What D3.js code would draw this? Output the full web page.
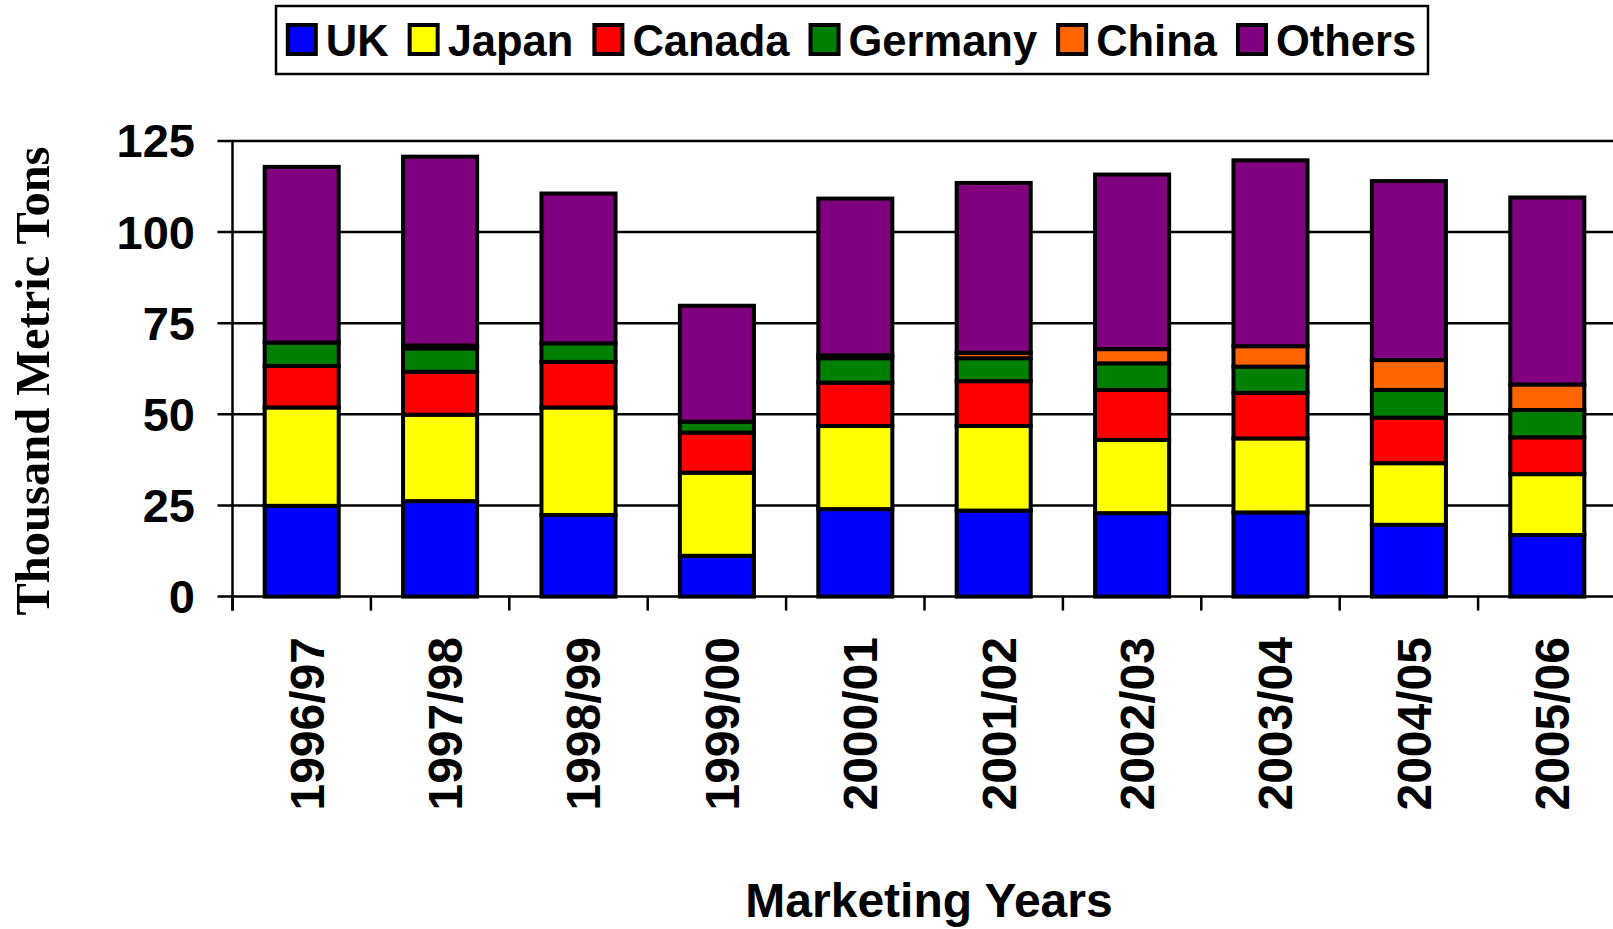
<!DOCTYPE html>
<meta charset="utf-8">
<script src="https://d3js.org/d3.v7.min.js"></script>
<style>
  body { margin: 0; background: #fff; }
  text { font-family: Arial, "Liberation Sans", sans-serif; font-weight: bold; fill: #000; }
</style>
<div id="my_dataviz"></div>
<script>
// data (thousand metric tons)
var years   = ["1996/97", "1997/98", "1998/99", "1999/00", "2000/01", "2001/02", "2002/03", "2003/04", "2004/05", "2005/06"];
var uk      = [24.9, 26.2, 22.4, 11.2, 24.0, 23.6, 22.9, 23.1, 19.7, 16.9];
var japan   = [27.0, 23.7, 29.5, 22.8, 22.8, 23.2, 20.1, 20.3, 16.9, 16.7];
var canada  = [11.4, 11.8, 12.5, 11.0, 11.9, 12.3, 13.7, 12.5, 12.5, 10.1];
var germany = [6.4, 6.4, 5.1, 3.0, 6.7, 6.3, 7.3, 7.2, 7.6, 7.5];
var china   = [0, 0.8, 0, 0, 0.8, 1.5, 3.9, 5.6, 8.2, 7.0];
var others  = [48.2, 51.8, 41.1, 31.8, 43.0, 46.6, 47.9, 51.0, 49.1, 51.3];
var yTicks  = [0, 25, 50, 75, 100, 125];

var keys   = ["UK", "Japan", "Canada", "Germany", "China", "Others"];
var colors = ["#0000FF", "#FFFF00", "#FF0000", "#008000", "#FF6600", "#800080"];

var data = years.map(function(y, i) {
  return {year: y, UK: uk[i], Japan: japan[i], Canada: canada[i],
          Germany: germany[i], China: china[i], Others: others[i]};
});

var W = 1613, H = 929;
var plotLeft = 232.5, plotTop = 141, plotBottom = 596.6;

var svg = d3.select("#my_dataviz")
  .append("svg")
    .attr("width", W)
    .attr("height", H);

var x = d3.scaleBand()
  .domain(years)
  .range([plotLeft, plotLeft + 1384])
  .paddingInner(0.465)
  .paddingOuter(0.2325);

var y = d3.scaleLinear()
  .domain([0, 125])
  .range([plotBottom, plotTop]);

var color = d3.scaleOrdinal().domain(keys).range(colors);

// gridlines
svg.append("g")
  .selectAll("line")
  .data(yTicks)
  .enter().append("line")
    .attr("x1", plotLeft - 15)
    .attr("x2", W)
    .attr("y1", function(d) { return y(d); })
    .attr("y2", function(d) { return y(d); })
    .attr("stroke", "#000")
    .attr("stroke-width", 2.5);

// y tick labels
svg.append("g")
  .selectAll("text")
  .data(yTicks)
  .enter().append("text")
    .attr("x", 195)
    .attr("y", function(d) { return y(d); })
    .attr("dy", "0.35em")
    .attr("text-anchor", "end")
    .style("font-size", "47px")
    .text(function(d) { return d; });

// y axis line
svg.append("line")
  .attr("x1", plotLeft).attr("x2", plotLeft)
  .attr("y1", plotTop).attr("y2", plotBottom + 14)
  .attr("stroke", "#000").attr("stroke-width", 2.5);

// x ticks at band edges
var step = x.step();
svg.append("g")
  .selectAll("line")
  .data(d3.range(years.length + 1))
  .enter().append("line")
    .attr("x1", function(i) { return plotLeft + i * step; })
    .attr("x2", function(i) { return plotLeft + i * step; })
    .attr("y1", plotBottom)
    .attr("y2", plotBottom + 14)
    .attr("stroke", "#000")
    .attr("stroke-width", 2.5);

// stacked bars
var series = d3.stack().keys(keys)(data);

svg.append("g")
  .selectAll("g")
  .data(series)
  .enter().append("g")
    .attr("fill", function(d) { return color(d.key); })
  .selectAll("rect")
  .data(function(d) { return d; })
  .enter().append("rect")
    .attr("x", function(d) { return x(d.data.year); })
    .attr("y", function(d) { return y(d[1]); })
    .attr("width", x.bandwidth())
    .attr("height", function(d) { return y(d[0]) - y(d[1]); })
    .attr("stroke", "#000")
    .attr("stroke-width", 4);

// x labels (rotated)
svg.append("g")
  .selectAll("text")
  .data(years)
  .enter().append("text")
    .attr("transform", function(d) {
      return "translate(" + (x(d) + x.bandwidth() / 2 + 5) + ",637) rotate(-90)";
    })
    .attr("dy", "0.35em")
    .attr("text-anchor", "end")
    .style("font-size", "48px")
    .text(function(d) { return d; });

// axis titles
svg.append("text")
  .attr("x", 929)
  .attr("y", 917)
  .attr("text-anchor", "middle")
  .style("font-size", "48px")
  .text("Marketing Years");

svg.append("text")
  .attr("transform", "translate(49,381) rotate(-90)")
  .attr("text-anchor", "middle")
  .style("font-family", "'Liberation Serif', 'Times New Roman', serif")
  .style("font-size", "48.5px")
  .text("Thousand Metric Tons");

// legend
var legend = svg.append("g");
legend.append("rect")
  .attr("x", 276).attr("y", 6)
  .attr("width", 1152).attr("height", 68)
  .attr("fill", "#fff")
  .attr("stroke", "#000")
  .attr("stroke-width", 2.5);

var items = legend.selectAll("g")
  .data(keys)
  .enter().append("g");

items.append("rect")
  .attr("width", 28).attr("height", 29)
  .attr("y", 25)
  .attr("fill", function(d) { return color(d); })
  .attr("stroke", "#000")
  .attr("stroke-width", 4);

items.append("text")
  .attr("x", 38)
  .attr("y", 56)
  .style("font-size", "43.5px")
  .text(function(d) { return d; });

// lay out legend entries from measured text widths
var widths = [];
items.each(function() {
  widths.push(38 + d3.select(this).select("text").node().getComputedTextLength());
});
var gap = 21;
var total = d3.sum(widths) + gap * (widths.length - 1);
var cur = 276 + (1152 - total) / 2;
items.attr("transform", function(d, i) {
  var t = "translate(" + cur + ",0)";
  cur += widths[i] + gap;
  return t;
});
</script>
